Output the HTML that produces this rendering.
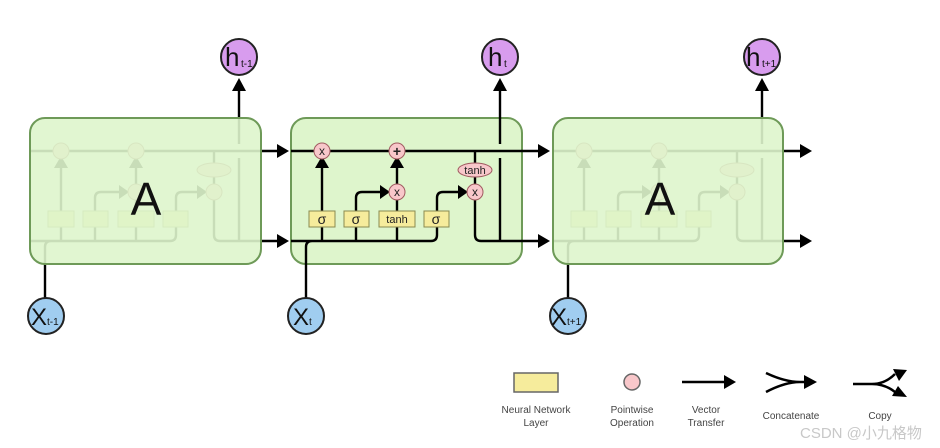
<!DOCTYPE html>
<html><head><meta charset="utf-8"><style>
body{margin:0;background:#fff;width:940px;height:448px;overflow:hidden}
svg{display:block;font-family:"Liberation Sans","DejaVu Sans",sans-serif}
</style></head><body>
<svg width="940" height="448" viewBox="0 0 940 448">
<!-- LEFT BOX internals -->
<g transform="translate(-261,0)" stroke="#000" stroke-width="2.4" fill="none">
<path d="M291 151H540M291 241H431Q437 241 437 235V198Q437 192 443 192H462M322 241V166M356 241V198Q356 192 362 192H384M397 241V200M397 184V166M475 151V163M475 177V184M475 200V235Q475 241 481 241H540M500 241V158M500 144V90M306 300V247Q306 241 312 241"/>
<g fill="#000" stroke="none"><polygon points="538,144 550,151 538,158"/><polygon points="538,234 550,241 538,248"/><polygon points="315,168 322,156 329,168"/><polygon points="390,168 397,156 404,168"/><polygon points="380,185 390,192 380,199"/><polygon points="458,185 468,192 458,199"/><polygon points="493,91 500,78 507,91"/></g>
<g fill="#f8c7ca" stroke="#a05a60" stroke-width="1"><circle cx="322" cy="151" r="8"/><circle cx="397" cy="151" r="8"/><circle cx="397" cy="192" r="8"/><circle cx="475" cy="192" r="8"/><ellipse cx="475" cy="170" rx="17" ry="7"/></g>
<g fill="#f6ec9c" stroke="#8a8a50" stroke-width="1"><rect x="309" y="211" width="26" height="16"/><rect x="344" y="211" width="25" height="16"/><rect x="379" y="211" width="36" height="16"/><rect x="424" y="211" width="25" height="16"/></g>
</g>
<rect x="30" y="118" width="231" height="146" rx="15" fill="#def5cc" fill-opacity="0.9" stroke="#6e9a58" stroke-width="2"/>
<text x="146" y="215" font-size="46" text-anchor="middle" fill="#111">A</text>

<!-- RIGHT BOX internals -->
<g transform="translate(262,0)" stroke="#000" stroke-width="2.4" fill="none">
<path d="M291 151H540M291 241H431Q437 241 437 235V198Q437 192 443 192H462M322 241V166M356 241V198Q356 192 362 192H384M397 241V200M397 184V166M475 151V163M475 177V184M475 200V235Q475 241 481 241H540M500 241V158M500 144V90M306 300V247Q306 241 312 241"/>
<g fill="#000" stroke="none"><polygon points="538,144 550,151 538,158"/><polygon points="538,234 550,241 538,248"/><polygon points="315,168 322,156 329,168"/><polygon points="390,168 397,156 404,168"/><polygon points="380,185 390,192 380,199"/><polygon points="458,185 468,192 458,199"/><polygon points="493,91 500,78 507,91"/></g>
<g fill="#f8c7ca" stroke="#a05a60" stroke-width="1"><circle cx="322" cy="151" r="8"/><circle cx="397" cy="151" r="8"/><circle cx="397" cy="192" r="8"/><circle cx="475" cy="192" r="8"/><ellipse cx="475" cy="170" rx="17" ry="7"/></g>
<g fill="#f6ec9c" stroke="#8a8a50" stroke-width="1"><rect x="309" y="211" width="26" height="16"/><rect x="344" y="211" width="25" height="16"/><rect x="379" y="211" width="36" height="16"/><rect x="424" y="211" width="25" height="16"/></g>
</g>
<rect x="553" y="118" width="230" height="146" rx="15" fill="#def5cc" fill-opacity="0.9" stroke="#6e9a58" stroke-width="2"/>
<text x="660" y="215" font-size="46" text-anchor="middle" fill="#111">A</text>

<!-- MIDDLE BOX -->
<rect x="291" y="118" width="231" height="146" rx="15" fill="#def5cc" stroke="#6e9a58" stroke-width="2"/>
<g stroke="#000" stroke-width="2.4" fill="none">
<path d="M291 151H540M291 241H431Q437 241 437 235V198Q437 192 443 192H462M322 241V166M356 241V198Q356 192 362 192H384M397 241V200M397 184V166M475 151V163M475 177V184M475 200V235Q475 241 481 241H540M500 241V158M500 144V90M306 300V247Q306 241 312 241"/>
<g fill="#000" stroke="none"><polygon points="538,144 550,151 538,158"/><polygon points="538,234 550,241 538,248"/><polygon points="315,168 322,156 329,168"/><polygon points="390,168 397,156 404,168"/><polygon points="380,185 390,192 380,199"/><polygon points="458,185 468,192 458,199"/><polygon points="493,91 500,78 507,91"/></g>
<g fill="#f8c7ca" stroke="#a05a60" stroke-width="1"><circle cx="322" cy="151" r="8"/><circle cx="397" cy="151" r="8"/><circle cx="397" cy="192" r="8"/><circle cx="475" cy="192" r="8"/><ellipse cx="475" cy="170" rx="17" ry="7"/></g>
<g fill="#f6ec9c" stroke="#8a8a50" stroke-width="1"><rect x="309" y="211" width="26" height="16"/><rect x="344" y="211" width="25" height="16"/><rect x="379" y="211" width="36" height="16"/><rect x="424" y="211" width="25" height="16"/></g>
</g>
<g fill="#222" text-anchor="middle">
<text x="322" y="155" font-size="12">x</text><text x="397" y="156" font-size="14" font-weight="bold">+</text><text x="397" y="196" font-size="12">x</text><text x="475" y="196" font-size="12">x</text><text x="475" y="174" font-size="11">tanh</text>
<text x="322" y="224" font-size="14">σ</text><text x="356" y="224" font-size="14">σ</text><text x="397" y="223" font-size="11">tanh</text><text x="436" y="224" font-size="14">σ</text>
</g>

<!-- h circles -->
<g stroke="#222" stroke-width="2" fill="#d89cee">
<circle cx="239" cy="57" r="18"/><circle cx="500" cy="57" r="18"/><circle cx="762" cy="57" r="18"/>
</g>
<g fill="#111">
<text x="225" y="66" font-size="26">h</text><text x="241" y="67" font-size="10">t-1</text>
<text x="488" y="66" font-size="26">h</text><text x="504" y="67" font-size="10">t</text>
<text x="746" y="66" font-size="26">h</text><text x="762" y="67" font-size="10">t+1</text>
</g>
<!-- x circles -->
<g stroke="#222" stroke-width="2" fill="#a0cdf0">
<circle cx="46" cy="316" r="18"/><circle cx="306" cy="316" r="18"/><circle cx="568" cy="316" r="18"/>
</g>
<g fill="#111">
<text x="31" y="325" font-size="24">X</text><text x="47" y="325" font-size="10">t-1</text>
<text x="293" y="325" font-size="24">X</text><text x="309" y="325" font-size="10">t</text>
<text x="551" y="325" font-size="24">X</text><text x="567" y="325" font-size="10">t+1</text>
</g>

<!-- legend -->
<rect x="514" y="373" width="44" height="19" fill="#f6ec9c" stroke="#666" stroke-width="1.5"/>
<circle cx="632" cy="382" r="8" fill="#f8c7ca" stroke="#666" stroke-width="1.5"/>
<g stroke="#000" stroke-width="2.5" fill="none">
<path d="M682 382H725"/>
<path d="M766 373Q785 382 800 382H805M766 392Q785 382 800 382"/>
<path d="M853 384H872Q885 384 895 374M872 384Q885 384 895 392"/>
</g>
<g fill="#000"><polygon points="724,375 736,382 724,389"/><polygon points="804,375 817,382 804,389"/><polygon points="893,369 907,370 899,381"/><polygon points="892,396 907,397 898,386"/></g>
<g font-size="10" fill="#444" text-anchor="middle">
<text x="536" y="413">Neural Network</text><text x="536" y="426">Layer</text>
<text x="632" y="413">Pointwise</text><text x="632" y="426">Operation</text>
<text x="706" y="413">Vector</text><text x="706" y="426">Transfer</text>
<text x="791" y="419">Concatenate</text>
<text x="880" y="419">Copy</text>
</g>
<text x="800" y="438" font-size="15" fill="#c8c8c8" font-family="Liberation Sans,'Noto Sans CJK SC',sans-serif">CSDN @小九格物</text>
</svg>
</body></html>
